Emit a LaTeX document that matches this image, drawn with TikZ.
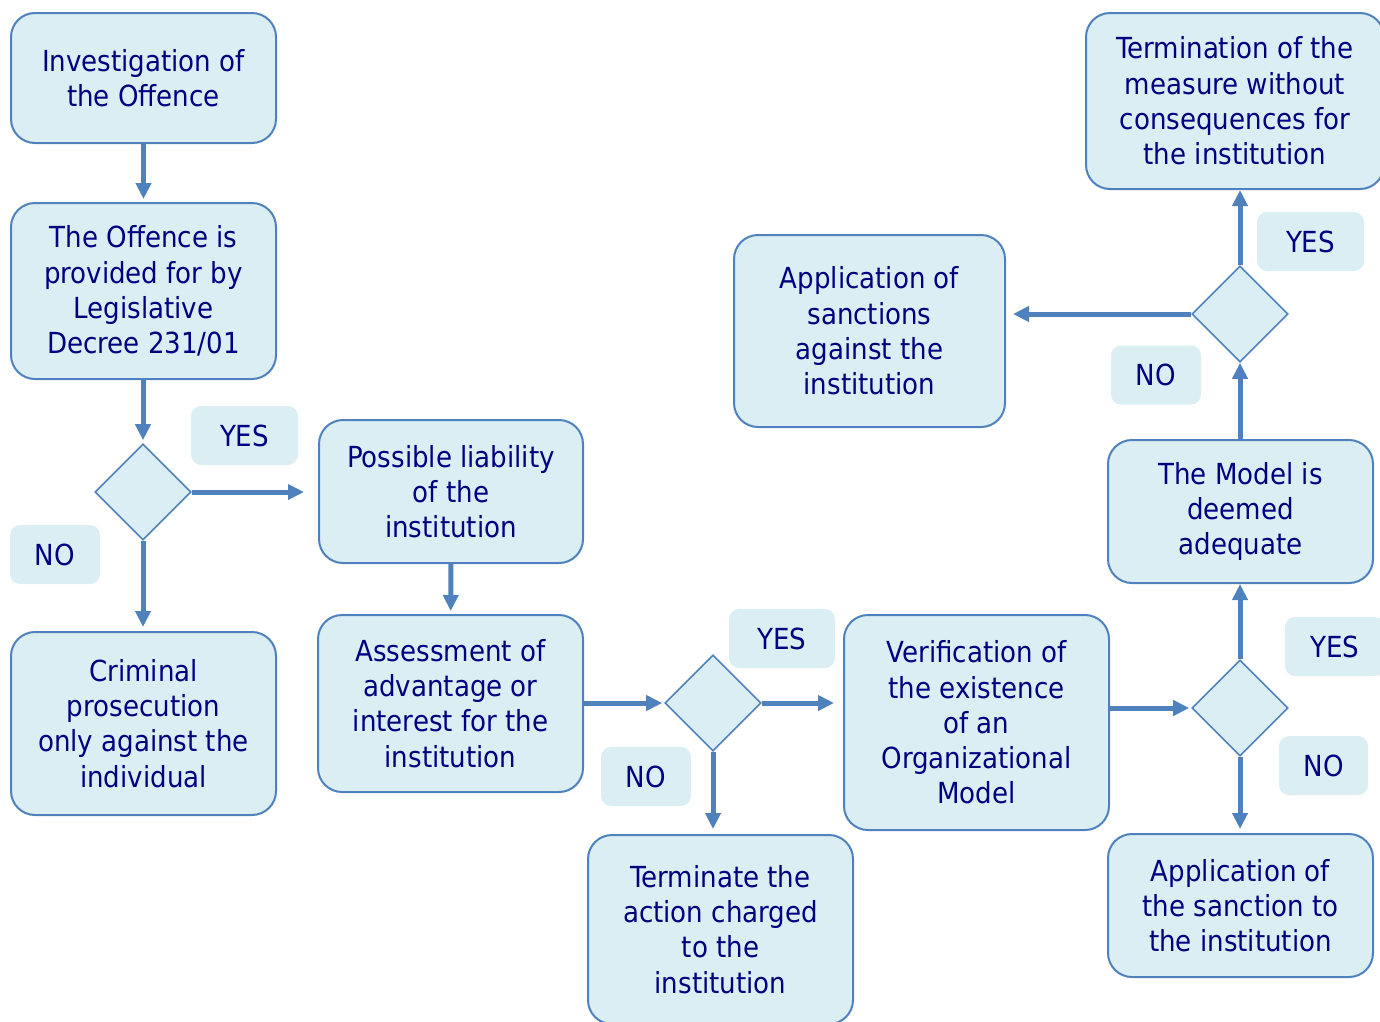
\documentclass[tikz,border=0pt]{standalone}
\usepackage{fontspec}
\setmainfont{DejaVu Sans Condensed}
\usetikzlibrary{arrows.meta,shapes.geometric}

\definecolor{boxfill}{RGB}{219,238,244}
\definecolor{boxline}{RGB}{79,129,189}
\definecolor{ink}{RGB}{0,0,128}

\begin{document}
\begin{tikzpicture}[x=1pt, y=-1pt, every node/.style={font=\fontsize{29}{35.3}\selectfont, text=ink},
	>={Triangle[length=16pt,width=15pt]},
	box/.style={draw=boxline, line width=2pt, fill=boxfill, rounded corners=24pt, align=center, inner sep=0pt},
	choice/.style={diamond, draw=boxline, line width=1.6pt, fill=boxfill, minimum size=96pt, inner sep=0pt},
	answer/.style={fill=boxfill, rounded corners=10pt, minimum height=59pt, inner sep=0pt},
	flow/.style={->, draw=boxline, line width=5pt, shorten >=3pt}]
	\useasboundingbox (0,0) rectangle (1380,1021);

	% left column
	\node[box, minimum width=265pt, minimum height=130pt] (investigate) at (143.5,78) {Investigation of\\the Offence};
	\node[box, minimum width=265pt, minimum height=176pt] (decree) at (143.5,291) {The Offence is\\provided for by\\Legislative\\Decree 231/01};
	\node[choice] (dec1) at (143,492) {};
	\node[box, minimum width=265pt, minimum height=183pt] (criminal) at (143.5,723.5) {Criminal\\prosecution\\only against the\\individual};
	\node[answer, minimum width=107pt] (yes1) at (244.5,435.5) {YES};
	\node[answer, minimum width=90pt] (no1) at (55,554.5) {NO};

	% institution branch
	\node[box, minimum width=264pt, minimum height=143pt] (liability) at (451,491.5) {Possible liability\\of the\\institution};
	\node[box, minimum width=265pt, minimum height=177pt] (assess) at (450.5,703.5) {Assessment of\\advantage or\\interest for the\\institution};
	\node[choice] (dec2) at (713,703) {};
	\node[answer, minimum width=106pt] (yes2) at (782,638.5) {YES};
	\node[answer, minimum width=90pt] (no2) at (646,776.5) {NO};
	\node[box, minimum width=265pt, minimum height=189pt] (terminate) at (720.5,929.5) {Terminate the\\action charged\\to the\\institution};

	% model check
	\node[box, minimum width=265pt, minimum height=215pt] (verify) at (976.5,722.5) {Verification of\\the existence\\of an\\Organizational\\Model};
	\node[choice] (dec3) at (1240,708) {};
	\node[answer, minimum width=100pt] (yes3) at (1335,646.5) {YES};
	\node[answer, minimum width=89pt] (no3) at (1323.5,765.5) {NO};
	\node[box, minimum width=265pt, minimum height=143pt] (sanction) at (1240.5,905.5) {Application of\\the sanction to\\the institution};
	\node[box, minimum width=265pt, minimum height=143pt] (model) at (1240.5,511.5) {The Model is\\deemed\\adequate};
	\node[choice] (dec4) at (1240,314) {};
	\node[answer, minimum width=107pt] (yes4) at (1310.5,241.5) {YES};
	\node[answer, minimum width=90pt] (no4) at (1156,375) {NO};
	\node[box, minimum width=298pt, minimum height=176pt] (termination) at (1235,101) {Termination of the\\measure without\\consequences for\\the institution};
	\node[box, minimum width=271pt, minimum height=192pt] (sanctions) at (869.5,331) {Application of\\sanctions\\against the\\institution};

	% connectors
	\draw[flow] (investigate) -- (decree);
	\draw[flow] (decree.south -| dec1) -- (dec1.north);
	\draw[flow, shorten >=14pt] (dec1.east) -- (dec1.east -| liability.west);
	\draw[flow, shorten >=4pt] (dec1.south) -- (dec1.south |- criminal.north);
	\draw[flow] (liability) -- (assess);
	\draw[flow, shorten >=2pt] (assess.east |- dec2) -- (dec2.west);
	\draw[flow, shorten >=9pt] (dec2.east) -- (dec2.east -| verify.west);
	\draw[flow, shorten >=5pt] (dec2.south) -- (dec2.south |- terminate.north);
	\draw[flow, shorten >=2pt] (verify.east |- dec3) -- (dec3.west);
	\draw[flow, shorten >=0pt] (dec3.north) -- (dec3.north |- model.south);
	\draw[flow, shorten >=4pt] (dec3.south) -- (dec3.south |- sanction.north);
	\draw[flow, shorten >=0pt] (model.north -| dec4) -- (dec4.south);
	\draw[flow, shorten >=0pt] (dec4.north) -- (dec4.north |- termination.south);
	\draw[flow, shorten >=7pt] (dec4.west) -- (dec4.west -| sanctions.east);
\end{tikzpicture}
\end{document}
